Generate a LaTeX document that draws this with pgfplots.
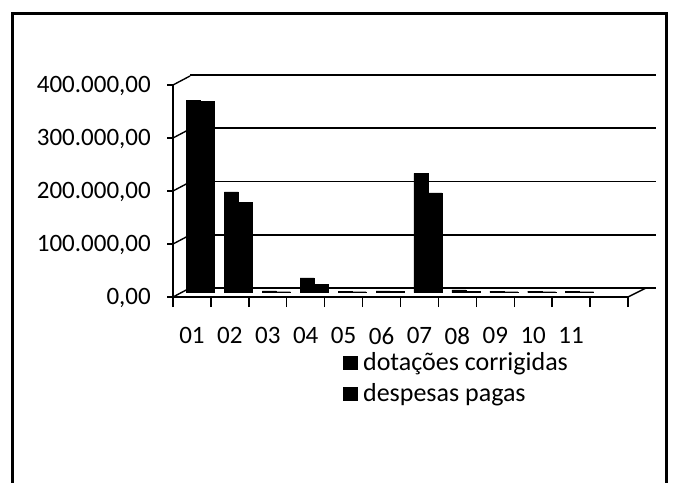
\documentclass[border=0pt]{standalone}
\usepackage{pgfplots}
\pgfplotsset{compat=1.18}
\usepackage{fontspec}
\setmainfont{Carlito}
\begin{document}
\begin{tikzpicture}[x=1pt,y=1pt]
\useasboundingbox (0,0) rectangle (676,482);
\fill[white] (0,0) rectangle (676,482);
\draw[line width=3pt] (12,-20) -- (12,468) -- (666,468) -- (666,-20);
% back wall with gridlines
\begin{axis}[at={(190pt,194pt)}, anchor=south west, scale only axis,
  width=466pt, height=213pt, xmin=0, xmax=12, ymin=0, ymax=400000,
  axis line style={draw=none}, tick style={draw=none},
  ytick={0,100000,200000,300000,400000}, yticklabels={}, xtick=\empty,
  scaled y ticks=false,
  ymajorgrids, grid style={line width=1.6pt, black}]
\addplot[draw=none] coordinates {(0,0)};
\end{axis}
% front axis
\begin{axis}[at={(173pt,185pt)}, anchor=south west, scale only axis,
  width=455pt, height=212pt, xmin=0, xmax=12, ymin=0, ymax=400000,
  axis x line*=bottom, axis y line*=left,
  axis line style={line width=1.6pt, black, -},
  scaled y ticks=false,
  tick align=outside, tick style={line width=1.4pt, black},
  major tick length=6pt, minor tick length=10pt,
  xtick={0.5,1.5,...,10.5},
  xticklabels={01,02,03,04,05,06,07,08,09,10,11},
  minor xtick={0,1,...,12},
  x tick style={draw=none},
  minor x tick style={draw=black, line width=1.4pt},
  ytick={0,100000,200000,300000,400000},
  yticklabels={{0,00},{100.000,00},{200.000,00},{300.000,00},{400.000,00}},
  tick label style={font=\fontsize{25}{30}\selectfont},
  x tick label style={anchor=north, inner sep=0pt, yshift=-24pt},
  y tick label style={anchor=east, inner sep=0pt, xshift=-16pt, yshift=-1pt},
  clip=false]
\addplot[draw=none] coordinates {(0,0)};
\pgfplotsinvokeforeach{0,100000,200000,300000,400000}{
  \draw[line width=1.4pt] (axis cs:0,#1) -- ++(17pt,9pt);
}
\draw[line width=1.4pt] (axis cs:12,0) -- ++(18pt,9pt);
\end{axis}
% bars
\begin{axis}[at={(181.5pt,189.5pt)}, anchor=south west, scale only axis,
  width=455pt, height=212pt, xmin=0, xmax=12, ymin=0, ymax=400000,
  axis lines=none, ybar=0pt, bar width=14pt,
  legend style={at={(axis description cs:0.355,-0.27)}, anchor=north west,
    draw=none, fill=none, font=\fontsize{26}{31}\selectfont,
    row sep=6pt, inner sep=0pt,
    nodes={inner sep=2.5pt}},
  legend cell align=left,
  legend image code/.code={\fill[black] (0pt,-7pt) rectangle (14pt,6pt);}]
\addplot[fill=black, draw=black] coordinates {(0.5,363000) (1.5,190000) (2.5,3000) (3.5,27500) (4.5,2500) (5.5,3000) (6.5,225000) (7.5,5000) (8.5,2500) (9.5,2500) (10.5,2500)};
\addplot[fill=black, draw=black] coordinates {(0.5,360000) (1.5,170000) (2.5,1500) (3.5,16000) (4.5,1500) (5.5,2000) (6.5,188000) (7.5,2500) (8.5,1500) (9.5,1500) (10.5,1500)};
\legend{\hspace{3pt}dotações corrigidas, \hspace{3pt}despesas pagas}
\end{axis}
\end{tikzpicture}
\end{document}
